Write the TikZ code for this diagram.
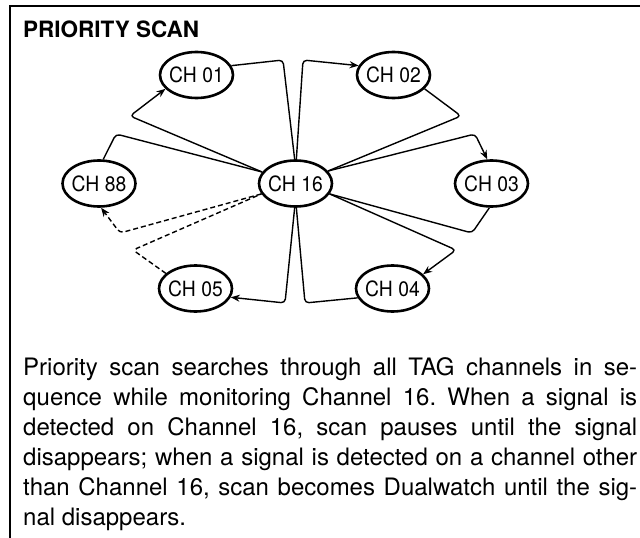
\documentclass[tikz,border=0pt]{standalone}
\usepackage{fontspec}
\setmainfont{TeX Gyre Heros}
\newfontfamily\chfont[FakeStretch=0.92]{TeX Gyre Heros}
\usetikzlibrary{shapes.geometric,arrows.meta}
\begin{document}
\frenchspacing
\begin{tikzpicture}[x=1pt,y=-1pt,
  ch/.style={ellipse,draw,line width=2.6pt,minimum width=73pt,minimum height=46pt,inner sep=0pt,font=\chfont\fontsize{21}{24}\selectfont},
  conn/.style={line width=1.4pt,rounded corners=4pt,line join=round},
  arr/.style={-{Stealth[length=9pt,width=7pt]}},
  dsh/.style={dash pattern=on 5pt off 3pt},
  body/.style={anchor=base west,inner sep=0pt,font=\fontsize{24}{30}\selectfont},
  frame/.style={line width=2pt}]
\useasboundingbox (0,0) rectangle (640,538);
\draw[frame] (10,540) -- (10,6) -- (642,6);
\node[anchor=base west,inner sep=0pt,font=\bfseries\fontsize{22.5}{27}\selectfont] (title) at (23,37) {PRIORITY SCAN};
% channel nodes
\node[ch] (c01) at (196.5,75) {\makebox[0pt]{CH 01}};
\node[ch] (c02) at (393.5,75) {\makebox[0pt]{CH 02}};
\node[ch] (c88) at (99,183.5) {\makebox[0pt]{CH 88}};
\node[ch] (c16) at (295.5,183.5) {\makebox[0pt]{CH 16}};
\node[ch] (c03) at (491.5,183.5) {\makebox[0pt]{CH 03}};
\node[ch] (c05) at (195.5,288.5) {\makebox[0pt]{CH 05}};
\node[ch] (c04) at (392.5,288.5) {\makebox[0pt]{CH 04}};
% corner coordinates
\coordinate (k1) at (283,60);
\coordinate (k2) at (303,60);
\coordinate (k3) at (461,116);
\coordinate (k4) at (475,134);
\coordinate (k5) at (472,233);
\coordinate (k6) at (456,250);
\coordinate (k7) at (305,303);
\coordinate (k8) at (285,303);
\coordinate (k9) at (133,250);
\coordinate (k10) at (120,233);
\coordinate (k11) at (116,134);
\coordinate (k12) at (130,116);
% connectors
\draw[conn] (c01.15) -- (k1) -- (c16.92);
\draw[conn,arr] (c16.88) -- (k2) -- (c02.165);
\draw[conn] (c02.336) -- (k3) -- (c16.21);
\draw[conn,arr] (c16.21) -- (k4) -- (c03.100);
\draw[conn] (c03.265) -- (k5) -- (c16.343);
\draw[conn,arr] (c16.343) -- (k6) -- (c04.25);
\draw[conn] (c04.195) -- (k7) -- (c16.272);
\draw[conn,arr] (c16.268) -- (k8) -- (c05.346);
\draw[conn,dsh] (c05.153) -- (k9) -- (c16.197);
\draw[conn,dsh,arr] (c16.197) -- (k10) -- (c88.275);
\draw[conn] (c88.80) -- (k11) -- (c16.161);
\draw[conn,arr] (c16.161) -- (k12) -- (c01.204);
% body text
\node[body] (l1) at (23,375) {\makebox[614pt][s]{Priority scan searches through all TAG channels in se-}};
\node[body] (l2) at (23,405) {\makebox[614pt][s]{quence while monitoring Channel 16. When a signal is}};
\node[body] (l3) at (23,435) {\makebox[614pt][s]{detected on Channel 16, scan pauses until the signal}};
\node[body] (l4) at (23,465) {\makebox[614pt][s]{disappears; when a signal is detected on a channel other}};
\node[body] (l5) at (23,495) {\makebox[614pt][s]{than Channel 16, scan becomes Dualwatch until the sig-}};
\node[body] (l6) at (23,525) {nal disappears.};
\end{tikzpicture}
\end{document}
